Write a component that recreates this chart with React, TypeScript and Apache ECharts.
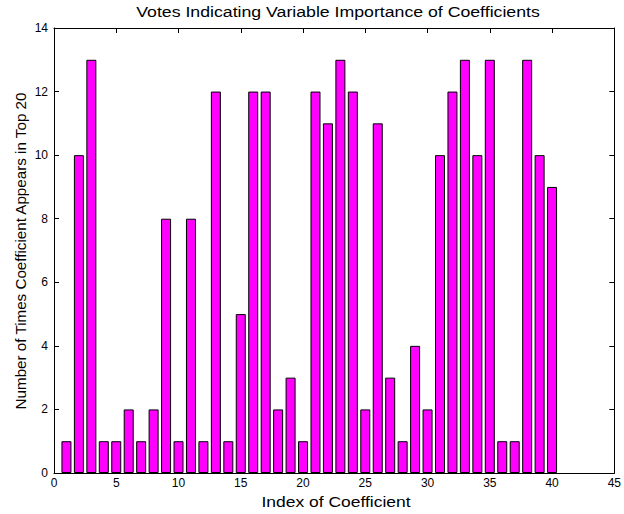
import React, { useEffect, useRef } from "react";
import * as echarts from "echarts";

const indices = Array.from({ length: 40 }, (_, i) => i + 1);
const votes = [
  1, 10, 13, 1, 1, 2, 1, 2, 8, 1,
  8, 1, 12, 1, 5, 12, 12, 2, 3, 1,
  12, 11, 13, 12, 2, 11, 3, 1, 4, 2,
  10, 12, 13, 10, 13, 1, 1, 13, 10, 9,
];
const xTicks = [0, 5, 10, 15, 20, 25, 30, 35, 40, 45];
const yTicks = [0, 2, 4, 6, 8, 10, 12, 14];

const titleText = "Votes Indicating Variable Importance of Coefficients";
const xName = "Index of Coefficient";
const yName = "Number of Times Coefficient Appears in Top 20";

const FONT = "Liberation Sans, Arial, Helvetica, sans-serif";
// horizontal text is a touch wider than its height suggests
const STRETCH = 1.15;

export default function App() {
  const ref = useRef<HTMLDivElement>(null);

  useEffect(() => {
    if (!ref.current) return;
    const chart = echarts.init(ref.current, null, { renderer: "svg" });
    const line = { show: true, onZero: false, lineStyle: { color: "#000", width: 1 } };
    const tick = { show: true, inside: true, length: 5, lineStyle: { color: "#000", width: 1 } };
    const labelStyle = { fontFamily: FONT, fontSize: 12, color: "#000" };
    chart.setOption({
      animation: false,
      backgroundColor: "#fff",
      grid: { left: 54, right: 7, top: 28, bottom: 41 },
      graphic: [
        {
          type: "text",
          x: 338,
          y: 12,
          scaleX: STRETCH,
          style: {
            text: titleText,
            font: `15.4px ${FONT}`,
            fill: "#000",
            textAlign: "center",
            textVerticalAlign: "middle",
          },
        },
        {
          type: "text",
          x: 336,
          y: 501,
          scaleX: STRETCH,
          style: {
            text: xName,
            font: `15.2px ${FONT}`,
            fill: "#000",
            textAlign: "center",
            textVerticalAlign: "middle",
          },
        },
        {
          type: "text",
          x: 20,
          y: 251,
          rotation: Math.PI / 2,
          style: {
            text: yName,
            font: `15.2px ${FONT}`,
            fill: "#000",
            textAlign: "center",
            textVerticalAlign: "middle",
          },
        },
      ],
      xAxis: [
        {
          type: "value",
          position: "bottom",
          min: xTicks[0],
          max: xTicks[xTicks.length - 1],
          interval: 5,
          axisLine: line,
          axisTick: tick,
          axisLabel: { ...labelStyle, margin: 4 },
          splitLine: { show: false },
        },
        {
          type: "value",
          position: "top",
          min: xTicks[0],
          max: xTicks[xTicks.length - 1],
          interval: 5,
          axisLine: line,
          axisTick: tick,
          axisLabel: { show: false },
          splitLine: { show: false },
        },
      ],
      yAxis: [
        {
          type: "value",
          position: "left",
          min: yTicks[0],
          max: yTicks[yTicks.length - 1],
          interval: 2,
          axisLine: line,
          axisTick: tick,
          axisLabel: { ...labelStyle, margin: 6 },
          splitLine: { show: false },
        },
        {
          type: "value",
          position: "right",
          min: yTicks[0],
          max: yTicks[yTicks.length - 1],
          interval: 2,
          axisLine: line,
          axisTick: tick,
          axisLabel: { show: false },
          splitLine: { show: false },
        },
      ],
      series: [
        {
          type: "bar",
          xAxisIndex: 0,
          yAxisIndex: 0,
          data: indices.map((x, i) => [x, votes[i]]),
          barWidth: 10,
          itemStyle: { color: "#ff00ff", borderColor: "#000", borderWidth: 1 },
        },
      ],
    });
    return () => chart.dispose();
  }, []);

  return <div ref={ref} style={{ width: 624, height: 514, position: "absolute", left: 0, top: 0 }} />;
}
